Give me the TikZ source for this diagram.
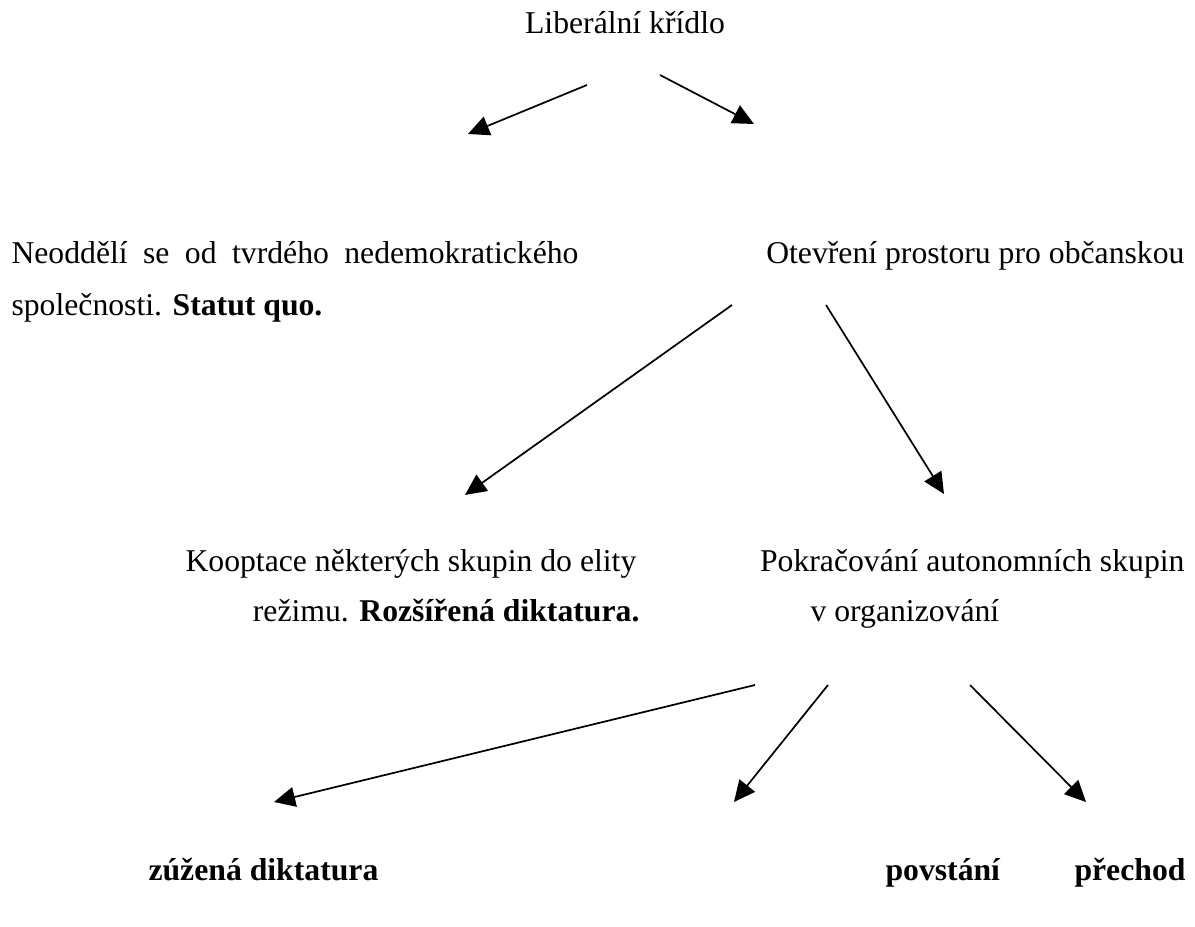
\documentclass[tikz,border=0pt]{standalone}
\usepackage{fontspec}
\setmainfont{Liberation Serif}
\usetikzlibrary{positioning, arrows.meta}
\newcommand{\tbf}[1]{\textbf{#1}}

\begin{document}
\begin{tikzpicture}[x=0.3785pt, y=-0.3785pt, >={Triangle[length=8pt, width=7.5pt]}, font=\fontsize{12}{14}\selectfont]
	\useasboundingbox (0, 0) rectangle (1195, 927);

	\node[anchor=base, inner sep=0] (wing) at (625, 34) {Liberální křídlo};

	\node[anchor=base west, inner sep=0] (stay1) at (11, 264) {\makebox[214.6pt][s]{Neoddělí se od tvrdého nedemokratického}};
	\node[anchor=base west, inner sep=0] (stay2) at (11, 316) {společnosti. \tbf{Statut quo.}};
	\node[anchor=base east, inner sep=0] (open) at (1185, 264) {Otevření prostoru pro občanskou};

	\node[anchor=base west, inner sep=0] (coopt1) at (185, 571) {Kooptace některých skupin do elity};
	\node[anchor=base east, inner sep=0] (coopt2) at (640, 621) {režimu. \tbf{Rozšířená diktatura.}};
	\node[anchor=base east, inner sep=0] (cont1) at (1185, 571) {Pokračování autonomních skupin};
	\node[anchor=base west, inner sep=0] (cont2) at (810, 621) {v organizování};

	\node[anchor=base west, inner sep=0] (narrow) at (148, 880) {\tbf{zúžená diktatura}};
	\node[anchor=base west, inner sep=0] (revolt) at (885, 880) {\tbf{povstání}};
	\node[anchor=base east, inner sep=0] (trans) at (1186, 880) {\tbf{přechod}};

	\coordinate (a1) at (587, 85);   \coordinate (b1) at (468, 134);
	\coordinate (a2) at (660, 75);   \coordinate (b2) at (754, 124);
	\coordinate (a3) at (732, 305);  \coordinate (b3) at (465, 495);
	\coordinate (a4) at (826, 305);  \coordinate (b4) at (944, 494);
	\coordinate (a5) at (755, 685);  \coordinate (b5) at (274, 802);
	\coordinate (a6) at (828, 685);  \coordinate (b6) at (734, 802);
	\coordinate (a7) at (970, 685);  \coordinate (b7) at (1086, 802);

	\draw [->, line width=0.65pt] (a1) -- (b1);
	\draw [->, line width=0.65pt] (a2) -- (b2);
	\draw [->, line width=0.65pt] (a3) -- (b3);
	\draw [->, line width=0.65pt] (a4) -- (b4);
	\draw [->, line width=0.65pt] (a5) -- (b5);
	\draw [->, line width=0.65pt] (a6) -- (b6);
	\draw [->, line width=0.65pt] (a7) -- (b7);
\end{tikzpicture}
\end{document}
